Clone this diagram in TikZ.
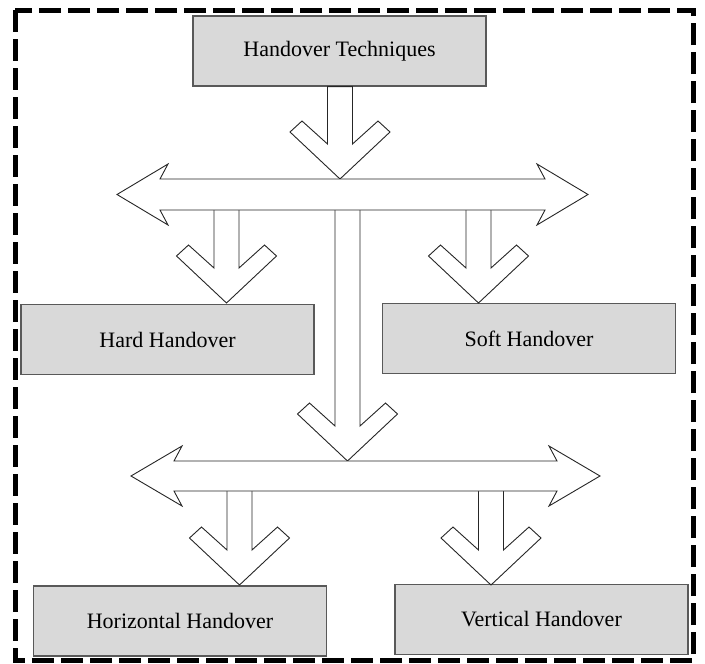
\documentclass[tikz,border=0pt]{standalone}
\usepackage{fontspec}
\setmainfont{Liberation Serif}
\usepackage{tikz}
\usetikzlibrary{calc}

\tikzset{
  caja/.style={draw=black!65, line width=1.3pt, fill=black!15, minimum width=293pt,
    minimum height=70pt, inner sep=0pt, font=\fontsize{22}{26}\selectfont},
  bloque/.style={draw=black!85, line width=0.9pt, fill=white, line join=miter},
  marco/.style={draw=black, line width=5pt, dash pattern=on 22pt off 7pt}
}

\newcommand{\bajada}[2]{%
  \draw[bloque] let \p1=(#1), \p2=(#2) in
    (\x2-12.5pt,\y1) -- (\x2-12.5pt,\y2+35pt) -- (\x2-38pt,\y2+58pt) -- (\x2-50pt,\y2+47pt)
    -- (\x2,\y2) -- (\x2+50pt,\y2+47pt) -- (\x2+38pt,\y2+58pt) -- (\x2+12.5pt,\y2+35pt)
    -- (\x2+12.5pt,\y1) -- cycle;}

\newcommand{\barra}[3]{%
  \draw[bloque] let \p1=(#1), \p2=(#2) in
    (\x1,\y1) -- (\x1+51pt,\y1+#3+15pt) -- (\x1+43pt,\y1+#3) -- (\x2-43pt,\y1+#3)
    -- (\x2-51pt,\y1+#3+15pt) -- (\x2,\y1) -- (\x2-51pt,\y1-#3-15pt) -- (\x2-43pt,\y1-#3)
    -- (\x1+43pt,\y1-#3) -- (\x1+51pt,\y1-#3-15pt) -- cycle;}

\begin{document}
\begin{tikzpicture}[x=1pt, y=-1pt]
  \useasboundingbox (0,0) rectangle (705,664);
  \draw[marco] (15,10) rectangle (693,660);

  \draw (339.5,51) node[caja] (tecnicas) {Handover Techniques};
  \draw (167.5,339.5) node[caja] (hard) {Hard Handover};
  \draw (529,338.5) node[caja] (soft) {Soft Handover};
  \draw (180,621) node[caja] (horizontal) {Horizontal Handover};
  \draw (541.5,619.5) node[caja] (vertical) {Vertical Handover};

  \coordinate (barra1i) at (117,194.5);
  \coordinate (barra1d) at (588,194.5);
  \coordinate (barra2i) at (131,476);
  \coordinate (barra2d) at (600,476);

  \coordinate (punta0) at (340,179);
  \coordinate (punta1) at (226.5,303);
  \coordinate (punta2) at (478.5,303);
  \coordinate (punta3) at (347.5,461);
  \coordinate (punta4) at (239.5,585);
  \coordinate (punta5) at (491,585);

  \bajada{tecnicas.south}{punta0}
  \bajada{barra1i}{punta1}
  \bajada{barra1i}{punta2}
  \bajada{barra1i}{punta3}
  \bajada{barra2i}{punta4}
  \bajada{barra2i}{punta5}

  \barra{barra1i}{barra1d}{15.5pt}
  \barra{barra2i}{barra2d}{15pt}
\end{tikzpicture}
\end{document}
